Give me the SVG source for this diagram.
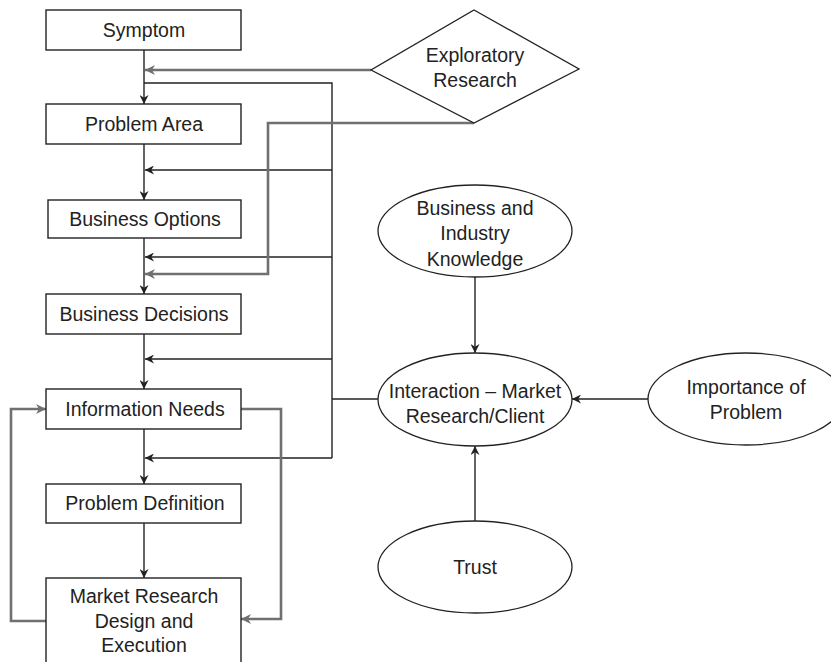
<svg xmlns="http://www.w3.org/2000/svg" width="831" height="662" viewBox="0 0 831 662">
<style>
  .box { fill: #fff; stroke: #222; stroke-width: 1.4; }
  .shape { fill: #fff; stroke: #222; stroke-width: 1.3; }
  .t { font-family: "Liberation Sans", Arial, sans-serif; font-size: 19.5px; fill: #222; text-anchor: middle; }
  .k { fill: none; stroke: #222; stroke-width: 1.4; }
  .g { fill: none; stroke: #707070; stroke-width: 2.6; }
</style>
<defs>
  <marker id="ak" viewBox="0 0 10 10" refX="10" refY="5" markerWidth="9" markerHeight="9" markerUnits="userSpaceOnUse" orient="auto">
    <path d="M0,0 L10,5 L0,10 L3,5 z" fill="#222"/>
  </marker>
  <marker id="ag" viewBox="0 0 10 10" refX="10" refY="5" markerWidth="10" markerHeight="10" markerUnits="userSpaceOnUse" orient="auto">
    <path d="M0,0 L10,5 L0,10 L3,5 z" fill="#707070"/>
  </marker>
</defs>
<rect width="831" height="662" fill="#fff"/>

<g id="connectors">
  <!-- main vertical flow -->
  <line class="k" x1="144" y1="50" x2="144" y2="104" marker-end="url(#ak)"/>
  <line class="k" x1="144" y1="144" x2="144" y2="200" marker-end="url(#ak)"/>
  <line class="k" x1="144" y1="238" x2="144" y2="294" marker-end="url(#ak)"/>
  <line class="k" x1="144" y1="334" x2="144" y2="389" marker-end="url(#ak)"/>
  <line class="k" x1="144" y1="429" x2="144" y2="484" marker-end="url(#ak)"/>
  <line class="k" x1="144" y1="523" x2="144" y2="578" marker-end="url(#ak)"/>
  <!-- interaction feedback bus -->
  <polyline class="k" points="144,83 332,83 332,458"/>
  <line class="k" x1="332" y1="170" x2="145" y2="170" marker-end="url(#ak)"/>
  <line class="k" x1="332" y1="257" x2="145" y2="257" marker-end="url(#ak)"/>
  <line class="k" x1="332" y1="359" x2="145" y2="359" marker-end="url(#ak)"/>
  <line class="k" x1="332" y1="458" x2="145" y2="458" marker-end="url(#ak)"/>
  <line class="k" x1="332" y1="399" x2="378" y2="399"/>
  <!-- ellipses to interaction -->
  <line class="k" x1="475" y1="277" x2="475" y2="353" marker-end="url(#ak)"/>
  <line class="k" x1="648" y1="399" x2="572" y2="399" marker-end="url(#ak)"/>
  <line class="k" x1="475" y1="521" x2="475" y2="446" marker-end="url(#ak)"/>
  <!-- exploratory research (gray) -->
  <line class="g" x1="371" y1="70" x2="145" y2="70" marker-end="url(#ag)"/>
  <polyline class="g" points="474,123 268,123 268,274 145,274" marker-end="url(#ag)"/>
  <!-- loops (gray) -->
  <polyline class="g" points="241,409 281,409 281,619 241,619" marker-end="url(#ag)"/>
  <polyline class="g" points="46,621 11,621 11,409 46,409" marker-end="url(#ag)"/>
</g>

<g id="symptom">
  <rect class="box" x="46" y="10" width="195" height="40"/>
  <text class="t" x="144" y="37">Symptom</text>
</g>
<g id="problem-area">
  <rect class="box" x="46" y="104" width="195" height="40"/>
  <text class="t" x="144" y="131">Problem Area</text>
</g>
<g id="business-options">
  <rect class="box" x="48" y="200" width="193" height="38"/>
  <text class="t" x="145" y="226">Business Options</text>
</g>
<g id="business-decisions">
  <rect class="box" x="46" y="294" width="195" height="40"/>
  <text class="t" x="144" y="321">Business Decisions</text>
</g>
<g id="information-needs">
  <rect class="box" x="46" y="389" width="195" height="40"/>
  <text class="t" x="145" y="416">Information Needs</text>
</g>
<g id="problem-definition">
  <rect class="box" x="46" y="484" width="195" height="39"/>
  <text class="t" x="145" y="510">Problem Definition</text>
</g>
<g id="market-research">
  <rect class="box" x="46" y="578" width="195" height="92"/>
  <text class="t" x="144" y="603">Market Research</text>
  <text class="t" x="144" y="628">Design and</text>
  <text class="t" x="144" y="652">Execution</text>
</g>
<g id="exploratory-research">
  <polygon class="shape" points="474,10 579,69 474,123 371,70"/>
  <text class="t" x="475" y="62">Exploratory</text>
  <text class="t" x="475" y="87">Research</text>
</g>
<g id="business-industry-knowledge">
  <ellipse class="shape" cx="475" cy="231" rx="97" ry="46"/>
  <text class="t" x="475" y="215">Business and</text>
  <text class="t" x="475" y="240">Industry</text>
  <text class="t" x="475" y="266">Knowledge</text>
</g>
<g id="interaction">
  <ellipse class="shape" cx="475" cy="399.5" rx="97" ry="46.5"/>
  <text class="t" x="475" y="398">Interaction – Market</text>
  <text class="t" x="475" y="423">Research/Client</text>
</g>
<g id="importance-of-problem">
  <ellipse class="shape" cx="746" cy="399" rx="98" ry="46"/>
  <text class="t" x="746" y="394">Importance of</text>
  <text class="t" x="746" y="419">Problem</text>
</g>
<g id="trust">
  <ellipse class="shape" cx="475" cy="567" rx="97" ry="46"/>
  <text class="t" x="475" y="574">Trust</text>
</g>
</svg>
